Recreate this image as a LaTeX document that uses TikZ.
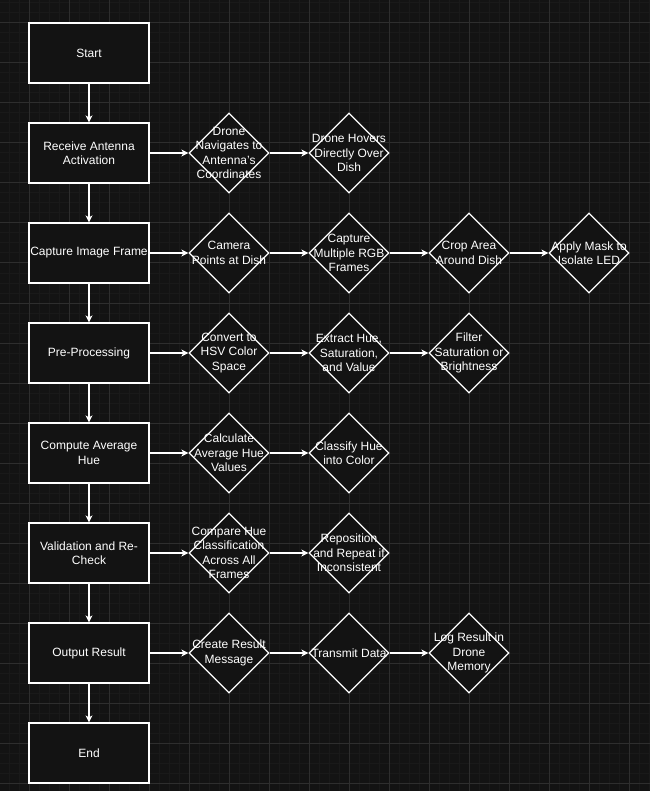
\documentclass[tikz,border=0pt]{standalone}
\usepackage{fontspec}
\setmainfont{Liberation Sans}
\usetikzlibrary{shapes.geometric,arrows.meta}
\definecolor{bg}{HTML}{131313}
\definecolor{boxfill}{HTML}{131313}
\definecolor{gridminor}{HTML}{191919}
\definecolor{gridmajor}{HTML}{2E2E2E}
\begin{document}
\begin{tikzpicture}[x=1pt,y=-1pt,
  txt/.style={text=white,font=\fontsize{12}{14.5}\selectfont,align=center,inner sep=0pt},
  stepbox/.style={rectangle,draw=white,line width=1.2pt,fill=boxfill,minimum width=120pt,minimum height=60pt,inner sep=0pt,txt},
  dia/.style={diamond,draw=white,line width=1.2pt,fill=boxfill,minimum width=80pt,minimum height=80pt,inner sep=0pt},
  lab/.style={label={[txt]center:#1}},
  conn/.style={draw=white,line width=1.2pt,-{Stealth[length=7pt,width=7pt,inset=2pt]}}
]
\useasboundingbox (0,0) rectangle (650,791);
\fill[bg] (0,0) rectangle (650,791);
\foreach \x in {9,19,...,649} \draw[gridminor,line width=1pt] (\x,0) -- (\x,791);
\foreach \y in {3,13,...,791} \draw[gridminor,line width=1pt] (0,\y) -- (650,\y);
\foreach \x in {29,69,...,649} \draw[gridmajor,line width=1pt] (\x,0) -- (\x,791);
\foreach \y in {23,63,...,791} \draw[gridmajor,line width=1pt] (0,\y) -- (650,\y);

% main column
\node[stepbox] (start) at (89,53) {Start};
\node[stepbox] (recv) at (89,153) {Receive Antenna\\Activation};
\node[stepbox] (cap) at (89,253) {Capture Image Frame};
\node[stepbox] (pre) at (89,353) {Pre-Processing};
\node[stepbox] (avg) at (89,453) {Compute Average\\Hue};
\node[stepbox] (val) at (89,553) {Validation and Re-\\Check};
\node[stepbox] (out) at (89,653) {Output Result};
\node[stepbox] (end) at (89,753) {End};

% row 1
\node[dia,lab={Drone\\Navigates to\\Antenna's\\Coordinates}] (r1a) at (229,153) {};
\node[dia,lab={Drone Hovers\\Directly Over\\Dish}] (r1b) at (349,153) {};
% row 2
\node[dia,lab={Camera\\Points at Dish}] (r2a) at (229,253) {};
\node[dia,lab={Capture\\Multiple RGB\\Frames}] (r2b) at (349,253) {};
\node[dia,lab={Crop Area\\Around Dish}] (r2c) at (469,253) {};
\node[dia,lab={Apply Mask to\\Isolate LED}] (r2d) at (589,253) {};
% row 3
\node[dia,lab={Convert to\\HSV Color\\Space}] (r3a) at (229,353) {};
\node[dia,lab={Extract Hue,\\Saturation,\\and Value}] (r3b) at (349,353) {};
\node[dia,lab={Filter\\Saturation or\\Brightness}] (r3c) at (469,353) {};
% row 4
\node[dia,lab={Calculate\\Average Hue\\Values}] (r4a) at (229,453) {};
\node[dia,lab={Classify Hue\\into Color}] (r4b) at (349,453) {};
% row 5
\node[dia,lab={Compare Hue\\Classification\\Across All\\Frames}] (r5a) at (229,553) {};
\node[dia,lab={Reposition\\and Repeat if\\Inconsistent}] (r5b) at (349,553) {};
% row 6
\node[dia,lab={Create Result\\Message}] (r6a) at (229,653) {};
\node[dia,lab={Transmit Data}] (r6b) at (349,653) {};
\node[dia,lab={Log Result in\\Drone\\Memory}] (r6c) at (469,653) {};

% vertical connectors
\draw[conn] (start) -- (recv);
\draw[conn] (recv) -- (cap);
\draw[conn] (cap) -- (pre);
\draw[conn] (pre) -- (avg);
\draw[conn] (avg) -- (val);
\draw[conn] (val) -- (out);
\draw[conn] (out) -- (end);

% horizontal connectors
\draw[conn] (recv) -- (r1a);
\draw[conn] (r1a) -- (r1b);
\draw[conn] (cap) -- (r2a);
\draw[conn] (r2a) -- (r2b);
\draw[conn] (r2b) -- (r2c);
\draw[conn] (r2c) -- (r2d);
\draw[conn] (pre) -- (r3a);
\draw[conn] (r3a) -- (r3b);
\draw[conn] (r3b) -- (r3c);
\draw[conn] (avg) -- (r4a);
\draw[conn] (r4a) -- (r4b);
\draw[conn] (val) -- (r5a);
\draw[conn] (r5a) -- (r5b);
\draw[conn] (out) -- (r6a);
\draw[conn] (r6a) -- (r6b);
\draw[conn] (r6b) -- (r6c);
\end{tikzpicture}
\end{document}
